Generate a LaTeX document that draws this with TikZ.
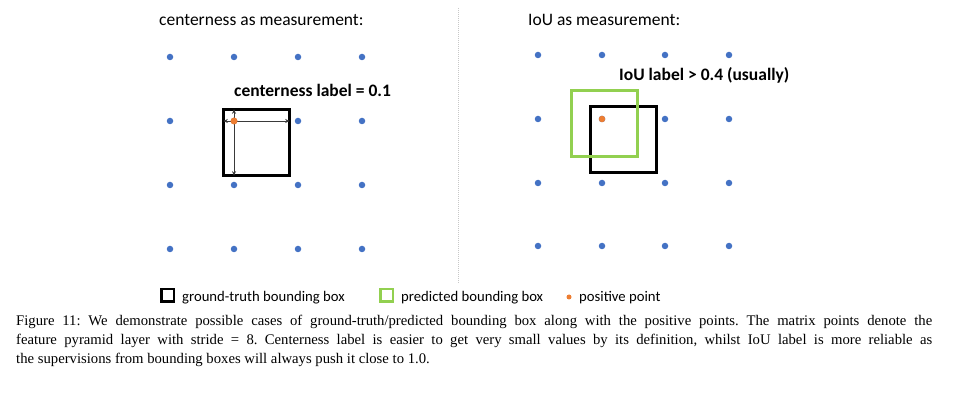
\documentclass[tikz,border=0pt]{standalone}
\usepackage{fontspec}
\setmainfont{Liberation Serif}
\newfontfamily\calfont{Carlito}
\usetikzlibrary{arrows.meta}
\definecolor{dotblue}{HTML}{4472C4}
\definecolor{dotorange}{HTML}{ED7D31}
\definecolor{boxgreen}{HTML}{92D050}
\definecolor{sepgray}{HTML}{C8C8C8}
\definecolor{arrgray}{HTML}{3A3A3A}
\begin{document}
\begin{tikzpicture}[x=1pt,y=-1pt,
  griddot/.style={circle,fill=dotblue,inner sep=0pt,minimum size=6.5pt},
  posdot/.style={circle,fill=dotorange,inner sep=0pt,minimum size=7pt},
  gtbox/.style={draw=black,line width=3pt,inner sep=0pt,minimum size=66pt},
  predbox/.style={draw=boxgreen,line width=3pt,inner sep=0pt,minimum size=66pt},
  legbox/.style={line width=2.5pt,inner sep=0pt,minimum size=12.5pt},
  titletext/.style={font=\calfont\fontsize{17.5}{21}\selectfont,anchor=base west,inner sep=0pt},
  labeltext/.style={font=\calfont\bfseries\fontsize{17.5}{21}\selectfont,anchor=base west,inner sep=0pt},
  legtext/.style={font=\calfont\fontsize{14.7}{18}\selectfont,anchor=base west,inner sep=0pt},
  captext/.style={font=\fontsize{14.7}{19}\selectfont\frenchspacing,anchor=base west,inner sep=0pt},
  dimarrow/.style={arrgray,line width=0.8pt,{Stealth[length=4.5pt,width=4pt]}-{Stealth[length=4.5pt,width=4pt]}},
  seprule/.style={sepgray,line width=0.8pt,dash pattern=on 1pt off 1pt}
]
\useasboundingbox (0,0) rectangle (967,395);

% separator
\coordinate (septop) at (458,8);
\coordinate (sepbot) at (458,283);
\draw[seprule] (septop) -- (sepbot);

% titles
\node[titletext] (tleft) at (159,26) {centerness as measurement:};
\node[titletext] (tright) at (528,26) {IoU as measurement:};

% left grid
\foreach \x [count=\i] in {170,234,298,362}
  \foreach \y [count=\j] in {57,121,185,249}
    \node[griddot] (L\i\j) at (\x,\y) {};
% right grid
\foreach \x [count=\i] in {538,602,665,729}
  \foreach \y [count=\j] in {55,119,183,246}
    \node[griddot] (R\i\j) at (\x,\y) {};

% left panel
\node[gtbox] (gtL) at (256.5,142.5) {};
\node[labeltext] (lblL) at (234,97) {centerness label = 0.1};
\coordinate (pl) at (234,121);
\draw[dimarrow,shorten <=1.3pt,shorten >=1.3pt] (gtL.west |- pl) -- (gtL.east |- pl);
\draw[dimarrow,shorten <=1.3pt,shorten >=1.3pt] (gtL.north -| pl) -- (gtL.south -| pl);
\node[posdot] (posL) at (pl) {};

% right panel
\node[gtbox] (gtR) at (623.5,140) {};
\node[predbox] (prR) at (604.5,124) {};
\node[posdot,minimum size=6.5pt] (posR) at (602,119) {};
\node[labeltext] (lblR) at (619,81) {IoU label > 0.4 (usually)};

% legend
\node[legbox,draw=black] (legGT) at (167.5,295.5) {};
\node[legtext] (legGTt) at (182,301.5) {ground-truth bounding box};
\node[legbox,draw=boxgreen] (legPR) at (386.5,295.5) {};
\node[legtext] (legPRt) at (401,301.5) {predicted bounding box};
\node[posdot,minimum size=5pt] (legPos) at (569,297) {};
\node[legtext] (legPost) at (579,301.5) {positive point};

% caption
\node[captext] (cap1) at (16,326) {\makebox[916pt][s]{Figure 11: We demonstrate possible cases of ground-truth/predicted bounding box along with the positive points. The matrix points denote the}};
\node[captext] (cap2) at (16,345) {\makebox[916pt][s]{feature pyramid layer with stride = 8. Centerness label is easier to get very small values by its definition, whilst IoU label is more reliable as}};
\node[captext] (cap3) at (16,364) {the supervisions from bounding boxes will always push it close to 1.0.};
\end{tikzpicture}
\end{document}
